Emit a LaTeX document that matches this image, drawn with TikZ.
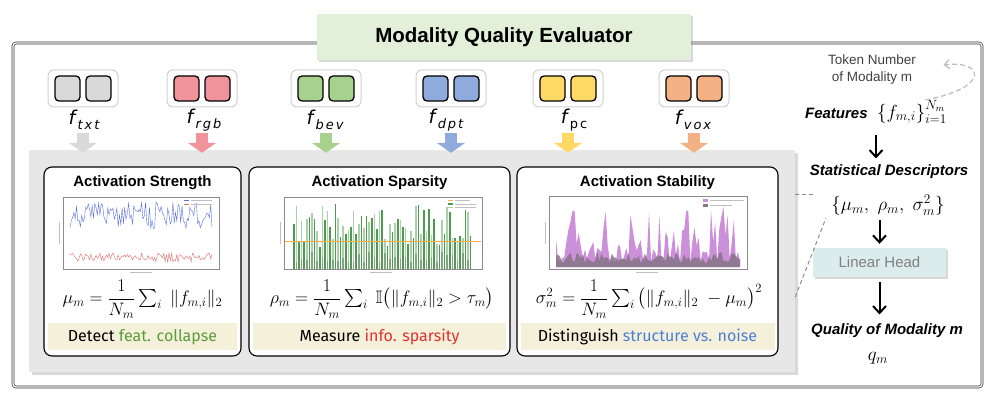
\RequirePackage{fix-cm}
\documentclass[tikz,border=0pt]{standalone}
\usepackage{fontspec}
\usepackage{amsmath,amssymb}
\usetikzlibrary{shadows,arrows.meta,calc}
\newfontfamily\helv{Liberation Sans}
\newfontfamily\featfont{DejaVu Sans}
\newfontfamily\handfont{Fira Sans}
\definecolor{titlegreen}{HTML}{E2EFD9}
\definecolor{panelgray}{HTML}{E7E7E7}
\definecolor{bandyellow}{HTML}{F4F0DA}
\definecolor{headblue}{HTML}{DCEBEC}
\definecolor{ctxt}{HTML}{D9D9D9}
\definecolor{crgb}{HTML}{F0939B}
\definecolor{cbev}{HTML}{A9D18E}
\definecolor{cdpt}{HTML}{8FAADC}
\definecolor{cpc}{HTML}{FFD966}
\definecolor{cvox}{HTML}{F4B183}
\definecolor{featgreen}{HTML}{5B9B3A}
\definecolor{infored}{HTML}{E03131}
\definecolor{noiseblue}{HTML}{4A7FD4}
\definecolor{plotblue}{HTML}{5A6FE0}
\definecolor{plotred}{HTML}{E07070}
\definecolor{bardark}{HTML}{4E9A4E}
\definecolor{barlight}{HTML}{A9D2A9}
\definecolor{barlow}{HTML}{5E8E5E}
\definecolor{threshold}{HTML}{F5B041}
\definecolor{stabpurple}{HTML}{CC8FDA}
\definecolor{stabgray}{HTML}{857585}
\newcommand{\fsub}[1]{\raisebox{-5pt}{\fontsize{13}{13}\selectfont\addfontfeature{LetterSpace=15}#1}}
\begin{document}
\begin{tikzpicture}[x=1pt,y=-1pt,
    frame/.style={draw=black!80, double, double distance=1.2pt, line width=0.7pt, rounded corners=3pt},
    titlebox/.style={fill=titlegreen, minimum width=374pt, minimum height=46pt,
        font=\helv\bfseries\fontsize{20.5}{20.5}\selectfont,
        drop shadow={shadow xshift=2pt, shadow yshift=-2pt, opacity=0.3}},
    panel/.style={fill=panelgray, minimum width=766pt, minimum height=222pt, inner sep=0pt,
        drop shadow={shadow xshift=3pt, shadow yshift=-3pt, opacity=0.3}},
    card/.style={draw=black, line width=1.1pt, fill=white, rounded corners=8pt,
        minimum height=189pt, inner sep=0pt},
    band/.style={fill=bandyellow},
    cardtitle/.style={font=\helv\bfseries\fontsize{15}{15}\selectfont},
    formula/.style={font=\fontsize{18}{18}\selectfont, inner sep=0pt},
    handtext/.style={font=\handfont\fontsize{16}{16}\selectfont},
    plotframe/.style={draw=black!45, line width=0.6pt, fill=white},
    fakelabel/.style={draw=black!25, line width=0.8pt},
    iconbox/.style={draw=black!18, line width=1pt, fill=white, rounded corners=6pt,
        minimum width=70pt, minimum height=37pt},
    slot/.style={draw=black, line width=1.3pt, rounded corners=4pt, minimum size=25pt, inner sep=0pt},
    featlbl/.style={font=\featfont\fontsize{19}{19}\selectfont, inner sep=1pt},
    tokenflow/.style={line width=12pt, -{Triangle[length=10pt,width=28pt]}},
    boldlbl/.style={font=\helv\bfseries\itshape\fontsize{15}{15}\selectfont},
    mathlbl/.style={font=\fontsize{19}{19}\selectfont},
    tokentext/.style={font=\helv\fontsize{13.5}{17}\selectfont, text=black!75, align=center},
    headbox/.style={fill=headblue, minimum width=133pt, minimum height=29pt, text=black!50,
        font=\helv\fontsize{15}{15}\selectfont,
        drop shadow={shadow xshift=2pt, shadow yshift=-2pt, opacity=0.3}},
    flow/.style={-{Straight Barb[length=7pt,width=13pt]}, line width=2pt},
    linkdash/.style={draw=black!45, line width=1pt, dash pattern=on 4pt off 3pt},
    loopdash/.style={draw=black!25, line width=1.3pt, dash pattern=on 5pt off 3pt,
        -{Straight Barb[length=5pt,width=9pt]}}
]
\useasboundingbox (0,0) rectangle (996,401);

% frame and title
\draw[frame] (13,43) rectangle (982,387);
\node[titlebox] (title) at (504,37) {Modality Quality Evaluator};

% panel with the three cards
\node[panel] (panel) at (412,261) {};
\node[card, minimum width=197pt] (card1) at (142.5,261.5) {};
\node[card, minimum width=261pt] (card2) at (379.5,261.5) {};
\node[card, minimum width=261pt] (card3) at (647.5,261.5) {};

% feature tokens
\foreach \nm/\cx/\col in {txt/83/ctxt, rgb/202/crgb, bev/326/cbev, dpt/451/cdpt, pc/568/cpc, vox/694/cvox}{
    \node[iconbox] (icon-\nm) at (\cx,88.5) {};
    \node[slot, fill=\col] at ([xshift=-15.5pt]icon-\nm.center) {};
    \node[slot, fill=\col] at ([xshift=15.5pt]icon-\nm.center) {};
    \draw[tokenflow, \col] ([yshift=17pt]icon-\nm.south |- panel.north) -- ([yshift=-3pt]icon-\nm.south |- panel.north);
}
\node[featlbl] (lbl-txt) at (84,120) {\textit{f}\fsub{\itshape txt}};
\node[featlbl] (lbl-rgb) at (204,120) {\textit{f}\fsub{\itshape rgb}};
\node[featlbl] (lbl-bev) at (325,120) {\textit{f}\fsub{\itshape bev}};
\node[featlbl] (lbl-dpt) at (446,120) {\textit{f}\fsub{\itshape dpt}};
\node[featlbl] (lbl-pc) at (574,120) {\textit{f}\fsub{pc}};
\node[featlbl] (lbl-vox) at (693,120) {\textit{f}\fsub{\itshape vox}};

% card 1: activation strength
\node[cardtitle] (title1) at (142.5,183) {Activation Strength};
\draw[plotframe] (63,197) rectangle (219,269);
\pgfmathsetseed{11}
\draw[plotblue, line width=0.4pt] plot[domain=70:212, samples=110] (\x,{202+27*rnd});
\draw[plotred, line width=0.4pt] plot[domain=70:212, samples=110] (\x,{253+9*rnd});
\draw[plotblue, line width=0.5pt] (184,200.5) -- (189,200.5);
\draw[plotred, line width=0.5pt] (184,204) -- (189,204);
\draw[fakelabel] (191,200.5) -- (212,200.5) (191,204) -- (212,204);
\draw[fakelabel] (59,222) -- (59,244) (130,272.5) -- (152,272.5);
\node[formula] (eq1) at (142.5,299) {$\mu_m = \dfrac{1}{N_m}\textstyle\sum_i \;\| f_{m,i} \|_2$};
\fill[band] (48,323) rectangle (237,350);
\node[handtext] (note1) at (142.5,337) {Detect \textcolor{featgreen}{feat. collapse}};

% card 2: activation sparsity
\node[cardtitle] (title2) at (379.5,183) {Activation Sparsity};
\draw[plotframe] (284,197) rectangle (482,269);
\foreach \i in {0,...,68}{
    \pgfmathsetmacro{\bx}{293+2.6*\i}
    \pgfmathsetmacro{\bh}{204+44*rnd}
    \pgfmathsetmacro{\bl}{268-(6+10*rnd)}
    \ifodd\i \def\bcol{barlight}\else\def\bcol{bardark}\fi
    \fill[\bcol] (\bx,268.5) rectangle (\bx+1.5,\bh);
    \fill[barlow, opacity=0.6] (\bx,268.5) rectangle (\bx+1.5,\bl);
}
\draw[threshold, line width=1pt] (285,241) -- (481,241);
\draw[threshold, line width=0.6pt] (448,200.5) -- (453,200.5);
\draw[bardark, line width=1.2pt] (448,204) -- (453,204);
\draw[barlight, line width=1.2pt] (448,207.5) -- (453,207.5);
\draw[fakelabel] (455,200.5) -- (470,200.5) (455,204) -- (476,204) (455,207.5) -- (476,207.5);
\draw[fakelabel] (280,222) -- (280,244) (370,272.5) -- (392,272.5);
\node[formula] (eq2) at (382,299) {$\rho_m = \dfrac{1}{N_m}\textstyle\sum_i \;\mathbb{I}\big(\| f_{m,i} \|_2 > \tau_m\big)$};
\fill[band] (253,323) rectangle (506,350);
\node[handtext] (note2) at (379.5,337) {Measure \textcolor{infored}{info. sparsity}};

% card 3: activation stability
\node[cardtitle] (title3) at (647.5,183) {Activation Stability};
\draw[plotframe] (549,196) rectangle (747,269);
\fill[stabpurple] (556,267) -- plot[domain=556:740, samples=90] (\x,{262-58*pow(rnd,2)}) -- (740,267) -- cycle;
\fill[stabgray, opacity=0.85] (556,267) -- plot[domain=556:740, samples=90] (\x,{263-11*rnd}) -- (740,267) -- cycle;
\fill[stabpurple] (703,199) rectangle (708,202);
\fill[stabgray] (703,203.5) rectangle (708,206.5);
\draw[fakelabel] (710,200.5) -- (744,200.5) (710,205) -- (732,205);
\draw[fakelabel] (545,222) -- (545,244) (636,272.5) -- (658,272.5);
\node[formula] (eq3) at (649,299) {$\sigma_m^2 = \dfrac{1}{N_m}\textstyle\sum_i \big(\| f_{m,i} \|_2 \;-\mu_m\big)^2$};
\fill[band] (521,323) rectangle (775,350);
\node[handtext] (note3) at (647.5,337) {Distinguish \textcolor{noiseblue}{structure vs. noise}};

% right column
\node[tokentext] (token) at (872,70) {Token Number\\of Modality m};
\node[mathlbl] (features) at (876,112) {{\helv\bfseries\itshape\fontsize{15}{15}\selectfont Features}\enspace$\{f_{m,i}\}_{i=1}^{N_m}$};
\node[boldlbl] (stat) at (889,172) {Statistical Descriptors};
\node[mathlbl] (desc) at (888,205) {$\{\mu_m,\;\rho_m,\;\sigma_m^2\}$};
\node[headbox] (head) at (879.5,262.5) {Linear Head};
\node[boldlbl] (quality) at (887,331) {Quality of Modality m};
\node[mathlbl] (qm) at (878,358) {$q_m$};

\draw[flow, shorten <=8pt, shorten >=3pt] (features.south) -- (features.south |- stat.north);
\draw[flow, shorten <=1pt, shorten >=4pt] (desc.south -| head.north) -- (head.north);
\draw[flow, shorten <=5pt, shorten >=6pt] (head.south) -- (head.south |- quality.north);
\draw[loopdash] ([xshift=-25pt,yshift=-3pt]features.north east) .. controls (990,88) and (985,60) .. ([xshift=24pt,yshift=5pt]token.east);

% links from the panel to the descriptors
\coordinate (pan-a) at ([yshift=67pt]panel.east);
\coordinate (pan-b) at ([yshift=-36pt]panel.east);
\coordinate (desc-a) at (815,194);
\coordinate (desc-b) at (826,218);
\draw[linkdash] (pan-a) -- (desc-a);
\draw[linkdash] (pan-b) -- (desc-b);
\end{tikzpicture}
\end{document}
